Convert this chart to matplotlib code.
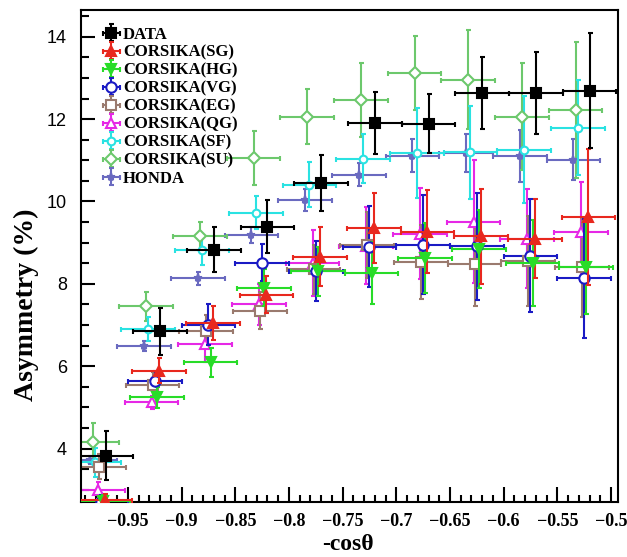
import matplotlib
matplotlib.use("Agg")
import matplotlib.pyplot as plt
from matplotlib.ticker import FixedLocator, MultipleLocator
import numpy as np

# ---------------- data ----------------
bins = [-0.975, -0.925, -0.875, -0.825, -0.775, -0.725, -0.675, -0.625, -0.575, -0.525]
bin_half = 0.025

series_names = ["DATA", "CORSIKA(SG)", "CORSIKA(HG)", "CORSIKA(VG)", "CORSIKA(EG)",
                "CORSIKA(QG)", "CORSIKA(SF)", "CORSIKA(SU)", "HONDA"]

data_y = [3.83, 6.85, 8.83, 9.39, 10.46, 11.91, 11.89, 12.63, 12.64, 12.69]
data_e = [0.6, 0.57, 0.55, 0.65, 0.68, 0.75, 0.72, 0.87, 1.0, 1.4]

sg_y = [2.75, 5.89, 7.05, 7.74, 8.66, 9.36, 9.27, 9.15, 9.10, 9.63]
sg_e = [0.15, 0.3, 0.42, 0.45, 0.72, 0.85, 1.0, 1.15, 0.97, 1.65]

hg_y = [2.72, 5.24, 6.09, 7.91, 8.30, 8.27, 8.63, 8.85, 8.51, 8.42]
hg_e = [0.15, 0.25, 0.35, 0.45, 0.6, 0.75, 0.85, 0.95, 1.05, 1.15]

vg_y = [2.71, 5.63, 7.01, 8.51, 8.32, 8.90, 8.95, 8.91, 8.68, 8.13]
vg_e = [0.15, 0.25, 0.5, 0.45, 0.73, 0.98, 1.2, 1.3, 1.37, 1.45]

eg_y = [3.56, 5.55, 6.85, 7.35, 8.35, 8.95, 8.54, 8.47, 8.55, 8.40]
eg_e = [0.3, 0.3, 0.4, 0.45, 0.6, 0.8, 0.9, 1.0, 1.1, 1.2]

qg_y = [2.98, 5.12, 6.55, 7.50, 8.51, 8.93, 9.22, 9.51, 9.10, 9.27]
qg_e = [0.2, 0.15, 0.45, 0.5, 0.8, 0.93, 1.1, 1.5, 1.2, 1.2]

sf_y = [3.66, 6.90, 8.81, 9.73, 10.41, 11.04, 11.18, 11.20, 11.26, 11.79]
sf_e = [0.35, 0.3, 0.35, 0.4, 0.55, 0.6, 1.1, 1.13, 1.3, 1.15]

su_y = [4.15, 7.45, 9.15, 11.06, 12.06, 12.47, 13.13, 12.96, 12.06, 12.23]
su_e = [0.47, 0.35, 0.35, 0.65, 0.67, 0.9, 0.9, 1.2, 1.3, 1.65]

honda_y = [3.72, 6.50, 8.13, 9.19, 10.04, 10.65, 11.11, 11.18, 11.11, 11.01]
honda_e = [0.1, 0.12, 0.15, 0.2, 0.27, 0.28, 0.4, 0.47, 0.63, 0.5]

xtick_vals = [-0.95, -0.9, -0.85, -0.8, -0.75, -0.7, -0.65, -0.6, -0.55, -0.5]
xtick_labels = ["\u22120.95", "\u22120.9", "\u22120.85", "\u22120.8", "\u22120.75",
                "\u22120.7", "\u22120.65", "\u22120.6", "\u22120.55", "\u22120.5"]
ytick_vals = [4, 6, 8, 10, 12, 14]
ytick_labels = ["4", "6", "8", "10", "12", "14"]

# ---------------- styles ----------------
styles = {
    "DATA":        dict(y=data_y,  e=data_e,  c="#000000", m="s", fill=True,  ms=6.5, dx=0.005),
    "CORSIKA(SG)": dict(y=sg_y,    e=sg_e,    c="#e8281e", m="^", fill=True,  ms=6.5, dx=0.004),
    "CORSIKA(HG)": dict(y=hg_y,    e=hg_e,    c="#28dc28", m="v", fill=True,  ms=6.5, dx=0.002),
    "CORSIKA(VG)": dict(y=vg_y,    e=vg_e,    c="#1a1ac4", m="o", fill=False, ms=7.5, dx=0.0),
    "CORSIKA(EG)": dict(y=eg_y,    e=eg_e,    c="#9a7a6e", m="s", fill=False, ms=6.5, dx=-0.002),
    "CORSIKA(QG)": dict(y=qg_y,    e=qg_e,    c="#e628e6", m="^", fill=False, ms=7.5, dx=-0.003),
    "CORSIKA(SF)": dict(y=sf_y,    e=sf_e,    c="#2ae2e2", m="o", fill=False, ms=5.5, dx=-0.006),
    "CORSIKA(SU)": dict(y=su_y,    e=su_e,    c="#6cc86c", m="D", fill=False, ms=6.0, dx=-0.008),
    "HONDA":       dict(y=honda_y, e=honda_e, c="#6a6ac0", m="*", fill=True,  ms=6.0, dx=-0.010),
}

fig = plt.figure(figsize=(6.27, 5.57), dpi=100)
ax = fig.add_axes([0.1287, 0.0987, 0.8569, 0.8833])

x_b = np.array(bins)
handles = {}
n = len(series_names)
for i, name in enumerate(series_names):
    s = styles[name]
    z = 10 if name == "DATA" else 2 + (n - i) * 0.1
    cont = ax.errorbar(x_b + s["dx"], s["y"], yerr=s["e"], xerr=bin_half,
                       fmt=s["m"], color=s["c"], ecolor=s["c"], elinewidth=1.5,
                       capsize=1.8, capthick=1.5, ms=s["ms"],
                       mfc=s["c"] if s["fill"] else "white", mec=s["c"], mew=1.5,
                       zorder=z, label=name)
    handles[name] = cont

ax.set_xlim(-0.994, -0.4935)
ax.set_ylim(2.7, 14.65)

ax.xaxis.set_major_locator(FixedLocator(xtick_vals))
ax.set_xticklabels(xtick_labels)
ax.xaxis.set_minor_locator(MultipleLocator(0.01))
ax.yaxis.set_major_locator(FixedLocator(ytick_vals))
ax.set_yticklabels(ytick_labels)
ax.yaxis.set_minor_locator(MultipleLocator(0.5))

ax.tick_params(axis="both", which="both", direction="in", top=False, right=False, width=1.5)
ax.tick_params(axis="x", which="major", length=11, pad=8)
ax.tick_params(axis="x", which="minor", length=5)
ax.tick_params(axis="y", which="major", length=10, pad=10)
ax.tick_params(axis="y", which="minor", length=5.5)
for spine in ax.spines.values():
    spine.set_linewidth(1.5)

for lab in ax.get_xticklabels():
    lab.set_fontfamily("Liberation Serif")
    lab.set_fontweight("bold")
    lab.set_fontsize(13)
for lab in ax.get_yticklabels():
    lab.set_fontfamily("Liberation Sans")
    lab.set_fontsize(13)

ax.set_xlabel("-cos\u03b8", fontfamily="Liberation Serif", fontweight="bold", fontsize=17)
ax.xaxis.set_label_coords(0.498, -0.066)
ax.set_ylabel("Asymmetry (%)", fontfamily="Liberation Serif", fontweight="bold", fontsize=20)
ax.yaxis.set_label_coords(-0.078, 0.40)

leg = ax.legend([handles[nm] for nm in series_names], series_names,
                loc="upper left", bbox_to_anchor=(0.02, 0.99), frameon=False,
                prop=dict(family="Liberation Serif", weight="bold", size=12),
                handlelength=1.0, handletextpad=0.2, labelspacing=0.12,
                borderaxespad=0.3)

fig.savefig("out.png", dpi=100)
